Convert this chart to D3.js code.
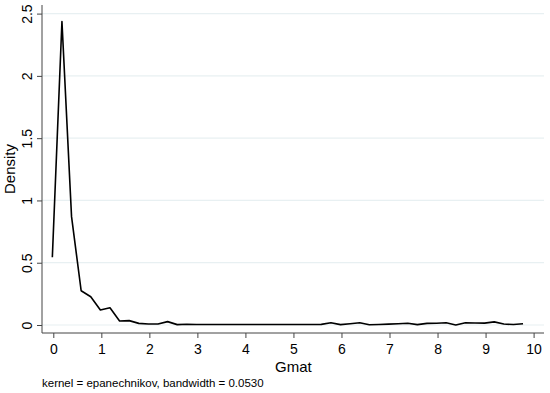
<!DOCTYPE html>
<html>
<head>
<meta charset="utf-8">
<script src="https://cdn.jsdelivr.net/npm/d3@7"></script>
<style>
  body { margin: 0; background: #fff; }
  text { font-family: "Liberation Sans", Arial, sans-serif; fill: #000; }
</style>
</head>
<body>
<svg class="chart"></svg>
<script>
// kernel density estimate of Gmat
var gmat = [-0.02, 0.18, 0.38, 0.58, 0.78, 0.98, 1.18, 1.38, 1.58, 1.78,
            1.98, 2.18, 2.38, 2.58, 2.78, 2.98, 3.18, 3.38, 3.58, 3.78,
            3.98, 4.18, 4.38, 4.58, 4.78, 4.98, 5.18, 5.38, 5.58, 5.78,
            5.98, 6.18, 6.38, 6.58, 6.78, 6.98, 7.18, 7.38, 7.58, 7.78,
            7.98, 8.18, 8.38, 8.58, 8.78, 8.98, 9.18, 9.38, 9.58, 9.78];
var density = [0.544, 2.436, 0.87, 0.275, 0.227, 0.12, 0.139, 0.032, 0.035, 0.013,
               0.008, 0.008, 0.027, 0.003, 0.006, 0.004, 0.004, 0.004, 0.004, 0.004,
               0.004, 0.004, 0.004, 0.004, 0.004, 0.004, 0.004, 0.004, 0.005, 0.018,
               0.003, 0.01, 0.018, 0.002, 0.004, 0.007, 0.01, 0.014, 0.003, 0.013,
               0.014, 0.018, 0.0, 0.018, 0.016, 0.015, 0.025, 0.008, 0.004, 0.01];
var xTicks = [0, 1, 2, 3, 4, 5, 6, 7, 8, 9, 10];
var yTicks = [0, 0.5, 1, 1.5, 2, 2.5];
var xTitle = "Gmat", yTitle = "Density";
var note = "kernel = epanechnikov, bandwidth = 0.0530";

var W = 550, H = 393;
var plotLeft = 42, plotRight = 544, plotTop = 5, plotBottom = 333;

var svg = d3.select("svg.chart")
  .attr("width", W)
  .attr("height", H);

var x = d3.scaleLinear().domain([0, 10]).range([53.3, 533.6]);
var y = d3.scaleLinear().domain([0, 2.5]).range([325, 13.6]);

// gridlines
svg.append("g")
  .selectAll("line")
  .data(yTicks)
  .enter().append("line")
    .attr("x1", plotLeft).attr("x2", plotRight)
    .attr("y1", function(d) { return y(d); })
    .attr("y2", function(d) { return y(d); })
    .attr("stroke", "#e8f0f2")
    .attr("stroke-width", 1.2);

// y axis
var yAxis = svg.append("g")
  .attr("transform", "translate(" + plotLeft + ",0)")
  .call(d3.axisLeft(y).tickValues(yTicks).tickSize(5).tickSizeOuter(0)
          .tickFormat(d3.format("")));
yAxis.select(".domain").remove();
yAxis.append("line")
  .attr("x1", 0).attr("x2", 0).attr("y1", plotTop).attr("y2", plotBottom)
  .attr("stroke", "#444");
yAxis.selectAll(".tick line").attr("stroke", "#444");
yAxis.selectAll(".tick text")
  .attr("x", 0).attr("dy", 0)
  .attr("transform", "translate(-10,0) rotate(-90)")
  .attr("text-anchor", "middle")
  .style("font-size", "14px")
  .attr("fill", "#000")
  .attr("font-family", null);

// x axis
var xAxis = svg.append("g")
  .attr("transform", "translate(0," + plotBottom + ")")
  .call(d3.axisBottom(x).tickValues(xTicks).tickSize(5).tickSizeOuter(0));
xAxis.select(".domain").remove();
xAxis.append("line")
  .attr("x1", plotLeft).attr("x2", plotRight).attr("y1", 0).attr("y2", 0)
  .attr("stroke", "#444");
xAxis.selectAll(".tick line").attr("stroke", "#444");
xAxis.selectAll(".tick text")
  .attr("y", 21).attr("dy", 0)
  .style("font-size", "14px")
  .attr("fill", "#000")
  .attr("font-family", null);

// density line
var line = d3.line()
  .x(function(d, i) { return x(gmat[i]); })
  .y(function(d) { return y(d); });

svg.append("path")
  .datum(density)
  .attr("d", line)
  .attr("fill", "none")
  .attr("stroke", "#000")
  .attr("stroke-width", 1.6)
  .attr("stroke-linejoin", "round");

// titles
svg.append("text")
  .attr("x", (x(0) + x(10)) / 2)
  .attr("y", 372)
  .attr("text-anchor", "middle")
  .style("font-size", "15px")
  .text(xTitle);

svg.append("text")
  .attr("transform", "translate(15," + ((plotTop + plotBottom) / 2) + ") rotate(-90)")
  .attr("text-anchor", "middle")
  .style("font-size", "15px")
  .text(yTitle);

svg.append("text")
  .attr("x", plotLeft)
  .attr("y", 387)
  .style("font-size", "11.5px")
  .text(note);
</script>
</body>
</html>
